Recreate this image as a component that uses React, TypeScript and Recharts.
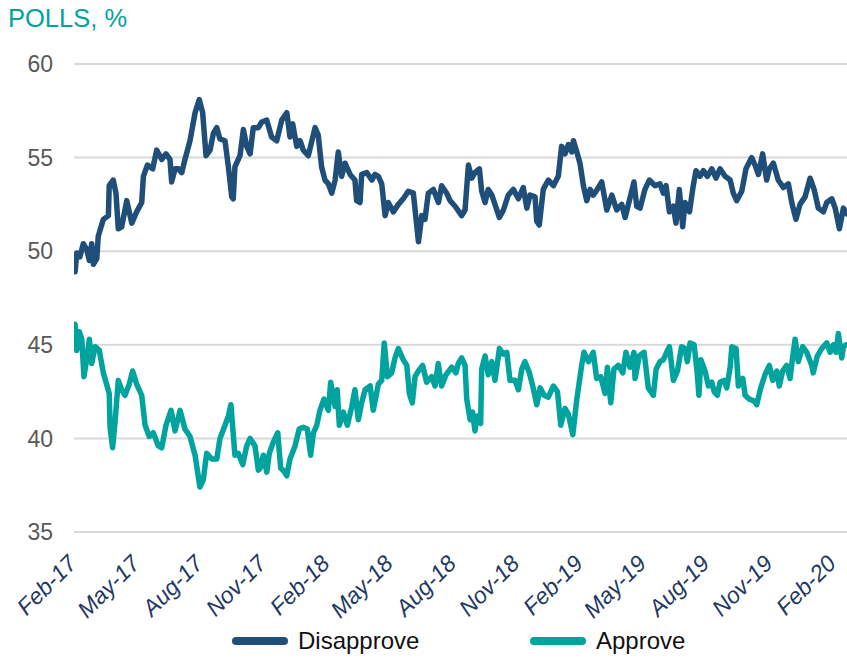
import React from 'react';
import { CartesianGrid, Line, LineChart, XAxis, YAxis } from 'recharts';

// months since Feb-17 (m) and poll share (%)
const disapproveM = [
  0.05, 0.13, 0.28, 0.44, 0.6, 0.73, 0.84, 0.92, 1.08, 1.15, 1.39, 1.63, 1.67, 1.86, 1.99, 2.1, 2.26, 2.5, 2.74, 2.97,
  3.21, 3.29, 3.48, 3.73, 3.92, 4.16, 4.36, 4.55, 4.63, 4.79, 4.95, 5.11, 5.26, 5.5, 5.74, 5.94, 6.1, 6.26, 6.45, 6.61,
  6.77, 6.92, 7.16, 7.32, 7.48, 7.55, 7.63, 7.87, 8.03, 8.19, 8.35, 8.5, 8.74, 8.9, 9.14, 9.37, 9.61, 9.85, 10.09, 10.24,
  10.37, 10.56, 10.72, 10.87, 11.11, 11.43, 11.58, 11.74, 11.9, 12.06, 12.22, 12.38, 12.53, 12.69, 12.85, 13.09, 13.32, 13.4, 13.56, 13.64,
  13.88, 14.12, 14.27, 14.43, 14.59, 14.75, 14.9, 15.14, 15.38, 15.61, 15.85, 16.09, 16.33, 16.49, 16.64, 16.8, 17.04, 17.28, 17.43, 17.67,
  17.83, 18.07, 18.38, 18.54, 18.7, 18.86, 19.01, 19.22, 19.33, 19.49, 19.64, 19.81, 19.96, 20.17, 20.36, 20.59, 20.83, 21.07, 21.3, 21.47,
  21.62, 21.86, 21.94, 22.06, 22.25, 22.49, 22.73, 22.96, 23.12, 23.28, 23.44, 23.6, 23.68, 23.84, 23.99, 24.15, 24.31, 24.47, 24.62, 24.81,
  25.02, 25.26, 25.5, 25.73, 25.97, 26.13, 26.33, 26.55, 26.68, 26.84, 27.07, 27.28, 27.55, 27.78, 27.94, 28.07, 28.23, 28.42, 28.54, 28.7,
  28.86, 28.97, 29.18, 29.36, 29.49, 29.68, 29.84, 30.03, 30.24, 30.44, 30.63, 30.87, 31.11, 31.26, 31.42, 31.66, 31.86, 32.13, 32.29, 32.45,
  32.65, 32.84, 32.97, 33.16, 33.39, 33.63, 33.87, 34.03, 34.23, 34.42, 34.66, 34.9, 35.09, 35.29, 35.53, 35.69, 35.93, 36.09, 36.29, 36.48,
  36.64,
];
const disapproveV = [
  48.9, 49.9, 49.7, 50.4, 50.1, 49.5, 50.4, 49.3, 49.6, 50.8, 51.7, 51.9, 53.5, 53.8, 53.1, 51.2, 51.3, 52.7, 51.5, 52.1,
  52.6, 54.0, 54.6, 54.4, 55.4, 54.9, 55.2, 54.9, 53.7, 54.4, 54.4, 54.2, 54.9, 55.9, 57.4, 58.1, 57.4, 55.1, 55.4, 56.3,
  56.6, 56.0, 55.9, 54.5, 52.9, 52.8, 54.5, 55.1, 56.5, 55.6, 55.2, 56.6, 56.6, 56.9, 57.0, 56.1, 55.9, 57.0, 57.4, 56.1,
  56.8, 55.6, 55.9, 55.4, 55.1, 56.6, 56.2, 54.5, 53.8, 53.6, 53.1, 53.8, 55.3, 54.0, 54.7, 54.1, 53.8, 52.7, 52.6, 54.1,
  54.2, 53.8, 54.1, 54.0, 53.6, 51.9, 52.6, 52.1, 52.5, 52.8, 53.2, 53.1, 50.5, 51.9, 51.7, 53.1, 53.3, 52.6, 53.5, 53.1,
  52.7, 52.4, 51.9, 52.2, 54.6, 53.9, 54.2, 54.4, 53.2, 52.6, 53.3, 53.0, 52.5, 51.8, 52.2, 53.0, 53.3, 52.8, 53.4, 52.3,
  53.0, 52.9, 51.6, 51.4, 53.3, 53.8, 53.5, 54.0, 55.6, 55.2, 55.7, 55.3, 55.9, 55.3, 54.7, 53.5, 52.7, 53.3, 53.0, 53.3,
  53.7, 52.2, 53.0, 52.2, 52.5, 51.8, 52.7, 53.7, 52.4, 52.3, 53.3, 53.8, 53.5, 53.6, 53.1, 53.5, 52.1, 52.4, 51.5, 53.3,
  51.3, 52.6, 52.1, 53.5, 54.3, 54.0, 54.3, 54.0, 54.4, 53.9, 54.4, 54.0, 53.8, 53.1, 52.7, 53.2, 54.4, 55.0, 54.6, 54.1,
  55.2, 53.8, 54.4, 54.7, 53.8, 53.4, 53.6, 52.6, 51.7, 52.5, 52.9, 53.9, 53.3, 52.3, 52.1, 52.6, 52.8, 52.3, 51.2, 52.3,
  52.0,
];

const approveM = [
  0.05, 0.13, 0.25, 0.37, 0.47, 0.6, 0.73, 0.84, 1.0, 1.2, 1.39, 1.67, 1.71, 1.83, 1.94, 2.1, 2.26, 2.42, 2.62, 2.78,
  2.97, 3.21, 3.37, 3.57, 3.76, 4.0, 4.16, 4.36, 4.6, 4.79, 5.03, 5.26, 5.5, 5.74, 5.97, 6.13, 6.29, 6.53, 6.77, 6.92,
  7.16, 7.32, 7.44, 7.63, 7.79, 8.0, 8.19, 8.35, 8.58, 8.74, 8.82, 8.98, 9.14, 9.26, 9.45, 9.66, 9.8, 9.92, 10.09, 10.24,
  10.48, 10.68, 10.87, 11.06, 11.22, 11.35, 11.51, 11.66, 11.85, 12.06, 12.17, 12.38, 12.48, 12.58, 12.77, 12.96, 13.17, 13.32, 13.48, 13.64,
  13.8, 14.04, 14.19, 14.43, 14.59, 14.71, 14.86, 15.06, 15.22, 15.38, 15.61, 15.78, 15.9, 16.04, 16.17, 16.33, 16.53, 16.72, 16.96, 17.12,
  17.27, 17.43, 17.64, 17.91, 18.11, 18.22, 18.38, 18.54, 18.62, 18.78, 18.9, 19.01, 19.12, 19.28, 19.33, 19.49, 19.64, 19.81, 19.96, 20.17,
  20.36, 20.52, 20.67, 20.91, 21.07, 21.23, 21.38, 21.59, 21.75, 21.94, 22.1, 22.29, 22.49, 22.73, 22.92, 23.08, 23.28, 23.44, 23.65, 23.84,
  24.07, 24.18, 24.39, 24.62, 24.78, 24.97, 25.18, 25.29, 25.45, 25.6, 25.81, 26.02, 26.17, 26.36, 26.55, 26.6, 26.8, 27.03, 27.23, 27.47,
  27.6, 27.78, 27.94, 28.1, 28.23, 28.42, 28.61, 28.81, 28.97, 29.08, 29.21, 29.4, 29.53, 29.63, 29.72, 29.92, 30.08, 30.24, 30.35, 30.5,
  30.63, 30.82, 30.95, 31.11, 31.19, 31.39, 31.5, 31.71, 31.82, 32.02, 32.24, 32.37, 32.56, 32.76, 32.97, 33.13, 33.32, 33.44, 33.6, 33.79,
  33.95, 34.08, 34.19, 34.34, 34.55, 34.74, 34.98, 35.05, 35.24, 35.45, 35.69, 35.85, 36.0, 36.13, 36.24, 36.4, 36.48, 36.6,
];
const approveV = [
  46.1, 44.7, 45.7, 45.3, 43.3, 44.2, 45.3, 44.0, 44.9, 44.7, 43.5, 42.4, 40.6, 39.5, 40.8, 43.1, 42.6, 42.3, 42.9, 43.6,
  42.9, 42.3, 40.7, 40.1, 40.3, 39.6, 39.5, 40.7, 41.5, 40.4, 41.5, 40.5, 40.1, 39.1, 37.4, 37.8, 39.2, 38.9, 38.9, 40.0,
  40.7, 41.2, 41.8, 39.1, 39.2, 38.6, 39.6, 40.0, 39.6, 38.3, 38.4, 39.1, 38.2, 39.2, 39.8, 40.3, 38.4, 38.3, 38.0, 38.9,
  39.6, 40.5, 40.6, 40.5, 39.1, 40.3, 40.7, 41.5, 42.1, 41.5, 43.0, 41.7, 42.6, 40.7, 41.4, 40.7, 41.7, 42.6, 41.0, 41.9,
  42.6, 42.8, 41.5, 42.9, 43.1, 45.1, 43.3, 43.5, 44.3, 44.8, 44.2, 43.9, 42.4, 41.9, 43.3, 43.6, 43.9, 43.0, 43.3, 42.8,
  44.0, 42.8, 43.4, 43.8, 43.5, 44.0, 44.3, 43.9, 42.1, 41.0, 41.4, 40.4, 41.2, 40.8, 43.7, 44.4, 43.4, 44.1, 43.1, 44.8,
  44.5, 44.6, 43.1, 43.1, 42.6, 43.7, 44.1, 43.5, 42.8, 41.8, 42.7, 42.3, 42.2, 42.8, 42.5, 40.7, 41.6, 41.3, 40.2, 42.1,
  43.9, 44.6, 44.1, 44.6, 43.2, 43.3, 42.4, 43.8, 41.9, 43.7, 43.9, 43.5, 44.6, 43.8, 44.6, 43.2, 44.4, 44.6, 42.7, 42.3,
  43.7, 44.1, 44.2, 44.6, 44.9, 43.1, 43.6, 44.9, 44.8, 44.1, 45.1, 45.0, 43.7, 42.3, 44.2, 43.6, 42.8, 43.0, 42.5, 42.3,
  43.0, 43.1, 42.7, 43.8, 44.9, 44.8, 42.8, 43.2, 42.3, 42.1, 42.0, 41.8, 42.7, 43.4, 43.9, 43.1, 43.6, 42.8, 43.6, 43.9,
  43.2, 44.4, 45.3, 44.1, 44.9, 44.6, 43.9, 43.5, 44.4, 44.8, 45.1, 44.6, 45.0, 44.6, 45.6, 44.3, 44.9, 45.0,
];

const tickLabels = ['Feb-17', 'May-17', 'Aug-17', 'Nov-17', 'Feb-18', 'May-18', 'Aug-18', 'Nov-18', 'Feb-19', 'May-19', 'Aug-19', 'Nov-19', 'Feb-20'];
const yTicks = [35, 40, 45, 50, 55, 60];

const DISAPPROVE = '#1F4E79';
const APPROVE = '#00A39E';
const FONT = '"Liberation Sans", Arial, sans-serif';

const disapproveData = disapproveM.map((m, i) => ({ m, v: disapproveV[i] }));
const approveData = approveM.map((m, i) => ({ m, v: approveV[i] }));
const xTicks = tickLabels.map((_, i) => i * 3);

function MonthTick({ x, y, payload }: any) {
  const ax = x + 4;
  const ay = y + 33;
  return (
    <text x={ax} y={ay} transform={`rotate(-45 ${ax} ${ay})`} textAnchor="end"
      fontStyle="italic" fontSize={23} fill="#1F3864" fontFamily={FONT}>
      {tickLabels[Math.round(payload.value / 3)]}
    </text>
  );
}

export default function App() {
  return (
    <div style={{ position: 'absolute', left: 0, top: 0, width: 847, height: 660, background: '#fff', fontFamily: FONT }}>
      <div style={{ position: 'absolute', left: 8, top: 6, fontSize: 25.5, lineHeight: '25px', color: APPROVE }}>POLLS, %</div>
      <LineChart width={847} height={660} margin={{ top: 64, right: 0, bottom: 0, left: 0 }}>
        <CartesianGrid vertical={false} stroke="#D9D9D9" strokeWidth={2} />
        <XAxis type="number" dataKey="m" domain={[0, 36.65]} ticks={xTicks} allowDataOverflow
          axisLine={false} tickLine={false} tickSize={0} tickMargin={0} height={128} tick={<MonthTick />} interval={0} />
        <YAxis type="number" domain={[35, 60]} ticks={yTicks} axisLine={false} tickLine={false}
          tickSize={0} tickMargin={21} width={74} tick={{ fontSize: 23, fill: '#595959', fontFamily: FONT }} />
        <Line data={disapproveData} dataKey="v" name="Disapprove" stroke={DISAPPROVE} strokeWidth={5.5}
          strokeLinejoin="round" strokeLinecap="round" dot={false} isAnimationActive={false} />
        <Line data={approveData} dataKey="v" name="Approve" stroke={APPROVE} strokeWidth={5.5}
          strokeLinejoin="round" strokeLinecap="round" dot={false} isAnimationActive={false} />
      </LineChart>
      {[{ label: 'Disapprove', color: DISAPPROVE, left: 232 }, { label: 'Approve', color: APPROVE, left: 530 }].map(item => (
        <div key={item.label} style={{ position: 'absolute', left: item.left, top: 629, display: 'flex', alignItems: 'center' }}>
          <span style={{ display: 'inline-block', width: 56, height: 8, borderRadius: 4, background: item.color, marginRight: 10 }} />
          <span style={{ fontSize: 24, lineHeight: '24px', color: '#111' }}>{item.label}</span>
        </div>
      ))}
    </div>
  );
}
